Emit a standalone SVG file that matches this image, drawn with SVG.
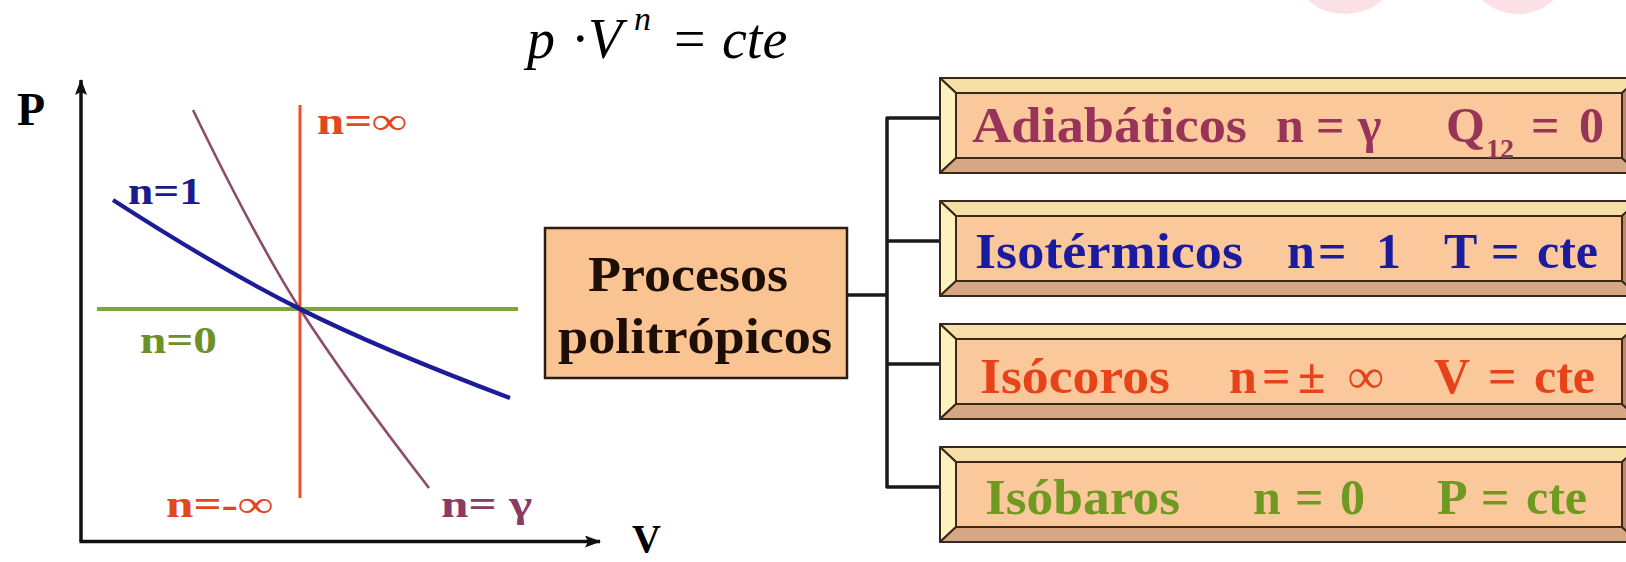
<svg xmlns="http://www.w3.org/2000/svg" xmlns:xlink="http://www.w3.org/1999/xlink" width="1626" height="562" viewBox="0 0 1626 562">
  <style>
    .serif { font-family: "Liberation Serif", "Times New Roman", serif; }
    .bold { font-weight: bold; }
    .lbl { font-family: "Liberation Serif", "Times New Roman", serif; font-weight: bold; font-size: 38px; }
    .bt { font-family: "Liberation Serif", "Times New Roman", serif; font-weight: bold; font-size: 50px; }
    .eq { font-family: "Liberation Serif", "Times New Roman", serif; font-size: 56px; }
    .sup { font-family: "Liberation Serif", "Times New Roman", serif; font-size: 34px; font-style: italic; }
    .axis { stroke: #111; stroke-width: 3.5; fill: none; }
    .wire { stroke: #1a1a1a; stroke-width: 3.5; fill: none; stroke-linejoin: round; stroke-linecap: butt; }
    .bv-top { fill: #F6DFA6; }
    .bv-left { fill: #FDF2BE; }
    .bv-bottom { fill: #D6A784; }
    .bv-right { fill: #B98A6B; }
    .bv-face { fill: #FBC89C; }
    .bv { stroke: #3A2818; stroke-width: 2; stroke-linejoin: round; }
    .c-adi { fill: #973457; }
    .c-iso { fill: #1B1BA0; }
    .c-cor { fill: #E6431B; }
    .c-bar { fill: #6E9A22; }
  </style>
  <defs>
    <marker id="arrow" viewBox="0 0 16 12" refX="15" refY="6" markerWidth="16" markerHeight="12" markerUnits="userSpaceOnUse" orient="auto">
      <path d="M0,0 L16,6 L0,12 L3,6 Z" fill="#111"/>
    </marker>
    <!-- bevelled label frame, drawn at y = 0 and shifted per row -->
    <g id="bevel" class="bv">
      <polygon class="bv-top" points="940,0 1638,0 1622,15 956,15"/>
      <polygon class="bv-left" points="940,0 956,15 956,80 940,95"/>
      <polygon class="bv-bottom" points="940,95 956,80 1622,80 1638,95"/>
      <polygon class="bv-right" points="1622,15 1638,0 1638,95 1622,80"/>
      <rect class="bv-face" x="956" y="15" width="666" height="65"/>
    </g>
  </defs>

  <rect width="1626" height="562" fill="#ffffff"/>

  <!-- faint background marks at the top edge -->
  <ellipse cx="1345" cy="-28" rx="50" ry="42" fill="#FBE1E5"/>
  <ellipse cx="1518" cy="-28" rx="48" ry="42" fill="#FBE1E5"/>

  <!-- polytropic law -->
  <g id="formula">
    <text class="eq" y="58" font-style="italic" x="527">p</text>
    <text class="eq" y="58" x="571">·</text>
    <text class="eq" y="58" font-style="italic" x="588">V</text>
    <text class="sup" y="30" x="634">n</text>
    <text class="eq" y="58" x="674">=</text>
    <text class="eq" y="58" font-style="italic" x="722">cte</text>
  </g>

  <!-- p-V chart -->
  <g id="chart">
    <line class="axis" x1="81" y1="541.5" x2="81" y2="80" marker-end="url(#arrow)"/>
    <line class="axis" x1="79.5" y1="541.5" x2="600" y2="541.5" marker-end="url(#arrow)"/>
    <text class="serif bold" font-size="46" x="17" y="125">P</text>
    <text class="serif bold" font-size="40" x="632" y="552">V</text>

    <!-- n = 0 : isobaric -->
    <line x1="97" y1="309" x2="518" y2="309" stroke="#7FA63D" stroke-width="4"/>
    <!-- n = infinity : isochoric -->
    <line x1="300" y1="105" x2="300" y2="498" stroke="#E9502E" stroke-width="3"/>
    <!-- n = gamma : adiabatic -->
    <path d="M193,110 Q256,240 300,309 T429,488" fill="none" stroke="#8C4C6C" stroke-width="2.6"/>
    <!-- n = 1 : isothermal -->
    <path d="M113,200 Q220,269 300,309 T510,398" fill="none" stroke="#1C1C98" stroke-width="4.2"/>

    <text class="lbl" x="317" y="134" textLength="90" lengthAdjust="spacingAndGlyphs" fill="#E2481F">n=∞</text>
    <text class="lbl" x="128" y="204" textLength="74" lengthAdjust="spacingAndGlyphs" fill="#1B1B8E">n=1</text>
    <text class="lbl" x="140" y="353" textLength="77" lengthAdjust="spacingAndGlyphs" fill="#6D9028">n=0</text>
    <text class="lbl" x="166" y="517" textLength="107" lengthAdjust="spacingAndGlyphs" fill="#E2481F">n=-∞</text>
    <text class="lbl" x="441" y="517" textLength="91" lengthAdjust="spacingAndGlyphs" fill="#8B3A62">n= γ</text>
  </g>

  <!-- tree connectors -->
  <g id="connectors">
    <path class="wire" d="M847,295 H887"/>
    <path class="wire" d="M940,118 H887 V487 H940"/>
    <path class="wire" d="M887,241 H940"/>
    <path class="wire" d="M887,364 H940"/>
  </g>

  <!-- root node -->
  <g id="procesos">
    <rect x="545" y="228" width="302" height="150" fill="#F9C392" stroke="#2B1B12" stroke-width="2.5"/>
    <text class="serif bold" font-size="50" fill="#1E0E08" x="588" y="291" textLength="200" lengthAdjust="spacingAndGlyphs">Procesos</text>
    <text class="serif bold" font-size="50" fill="#1E0E08" x="558" y="353" textLength="274" lengthAdjust="spacingAndGlyphs">politrópicos</text>
  </g>

  <!-- process kinds -->
  <g id="adiabaticos">
    <use xlink:href="#bevel" href="#bevel" y="78"/>
    <text class="bt c-adi" x="972" y="142" textLength="275" lengthAdjust="spacingAndGlyphs">Adiabáticos</text>
    <text class="bt c-adi" y="142"><tspan x="1276">n</tspan><tspan x="1316">=</tspan><tspan x="1358">γ</tspan><tspan x="1446">Q</tspan><tspan x="1486" dy="16" style="font-size:28px">12</tspan><tspan x="1531" dy="-16">=</tspan><tspan x="1579">0</tspan></text>
  </g>

  <g id="isotermicos">
    <use xlink:href="#bevel" href="#bevel" y="201"/>
    <text class="bt c-iso" x="975" y="268" textLength="268" lengthAdjust="spacingAndGlyphs">Isotérmicos</text>
    <text class="bt c-iso" y="268"><tspan x="1287">n</tspan><tspan x="1318">=</tspan><tspan x="1376">1</tspan><tspan x="1444">T</tspan><tspan x="1491">=</tspan><tspan x="1537">cte</tspan></text>
  </g>

  <g id="isocoros">
    <use xlink:href="#bevel" href="#bevel" y="324"/>
    <text class="bt c-cor" x="980" y="393" textLength="190" lengthAdjust="spacingAndGlyphs">Isócoros</text>
    <text class="bt c-cor" y="393"><tspan x="1229">n</tspan><tspan x="1262">=</tspan><tspan x="1298">±</tspan><tspan x="1348">∞</tspan><tspan x="1434">V</tspan><tspan x="1488">=</tspan><tspan x="1534">cte</tspan></text>
  </g>

  <g id="isobaros">
    <use xlink:href="#bevel" href="#bevel" y="447"/>
    <text class="bt c-bar" x="985" y="514" textLength="195" lengthAdjust="spacingAndGlyphs">Isóbaros</text>
    <text class="bt c-bar" y="514"><tspan x="1253">n</tspan><tspan x="1295">=</tspan><tspan x="1340">0</tspan><tspan x="1437">P</tspan><tspan x="1481">=</tspan><tspan x="1526">cte</tspan></text>
  </g>
</svg>
